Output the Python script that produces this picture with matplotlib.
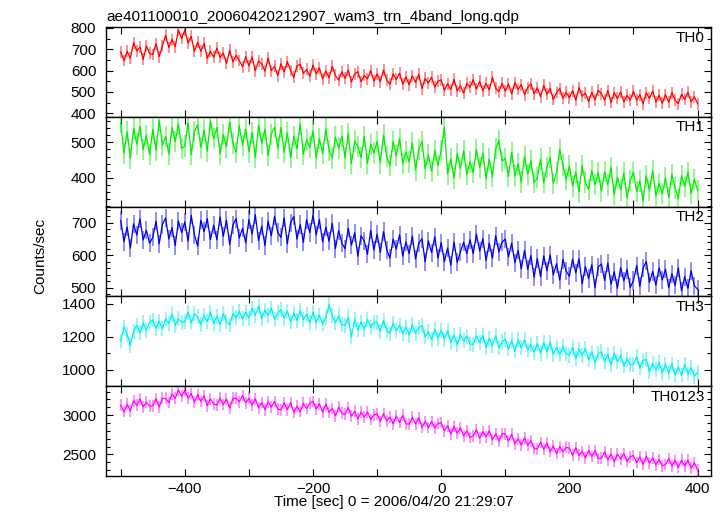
import numpy as np
import matplotlib
matplotlib.use("Agg")
import matplotlib.pyplot as plt
from matplotlib.ticker import MultipleLocator

plt.rcParams['font.family'] = ['Liberation Sans', 'DejaVu Sans']

# 5 s bins, time relative to 2006/04/20 21:29:07
time = np.arange(-500, 401, 5)

th0 = [
    686, 647, 690, 658, 730, 692, 710, 652, 715, 680,
    675, 725, 665, 715, 765, 708, 745, 712, 790, 750,
    790, 730, 760, 690, 732, 690, 727, 658, 690, 662,
    705, 661, 682, 633, 694, 640, 671, 647, 618, 665,
    622, 663, 599, 645, 631, 597, 658, 599, 620, 576,
    632, 594, 642, 600, 568, 621, 629, 587, 605, 573,
    626, 584, 612, 560, 598, 566, 619, 577, 555, 594,
    563, 602, 546, 585, 594, 548, 577, 561, 600, 550,
    584, 548, 602, 556, 535, 584, 558, 587, 536, 570,
    533, 576, 544, 582, 515, 563, 541, 569, 522, 550,
    556, 507, 538, 510, 559, 504, 529, 494, 540, 521,
    557, 513, 549, 505, 540, 509, 568, 517, 501, 540,
    504, 537, 490, 543, 511, 534, 487, 520, 538, 491,
    519, 477, 530, 488, 516, 464, 497, 515, 469, 498,
    472, 506, 461, 520, 480, 494, 454, 498, 463, 507,
    492, 461, 506, 450, 495, 469, 499, 453, 483, 462,
    502, 461, 486, 445, 495, 469, 504, 453, 483, 447,
    487, 451, 496, 460, 445, 489, 464, 498, 453, 477,
    445]

th1 = [
    555, 470, 530, 455, 540, 495, 545, 480, 520, 465,
    537, 477, 562, 492, 517, 467, 542, 502, 552, 482,
    490, 555, 465, 530, 550, 485, 535, 475, 560, 510,
    542, 467, 522, 487, 557, 497, 472, 547, 492, 537,
    473, 528, 458, 548, 498, 538, 463, 523, 543, 483,
    542, 472, 527, 457, 517, 482, 552, 467, 507, 487,
    532, 456, 510, 469, 538, 477, 456, 515, 484, 518,
    456, 525, 440, 504, 488, 457, 517, 441, 495, 470,
    503, 442, 521, 460, 434, 503, 462, 511, 440, 473,
    445, 499, 422, 480, 503, 426, 465, 418, 477, 435,
    478, 542, 411, 455, 399, 468, 427, 476, 410, 445,
    415, 480, 429, 469, 398, 453, 403, 482, 505, 447,
    455, 404, 472, 405, 439, 388, 461, 410, 448, 387,
    400, 453, 386, 429, 457, 385, 414, 480, 436, 395,
    433, 377, 416, 360, 434, 388, 367, 421, 381, 415,
    363, 417, 380, 429, 353, 402, 366, 414, 343, 392,
    416, 361, 391, 335, 405, 365, 420, 350, 385, 355,
    400, 345, 410, 371, 341, 406, 376, 416, 356, 396,
    365]

th2 = [
    707, 642, 687, 622, 697, 662, 712, 647, 677, 637,
    655, 705, 635, 695, 715, 650, 685, 630, 705, 670,
    703, 643, 723, 663, 628, 708, 673, 713, 648, 693,
    648, 718, 658, 708, 633, 693, 713, 653, 683, 638,
    710, 665, 725, 645, 690, 630, 705, 660, 720, 670,
    655, 715, 635, 700, 720, 650, 695, 640, 710, 670,
    724, 663, 710, 641, 687, 643, 699, 620, 676, 637,
    620, 683, 631, 669, 597, 660, 644, 603, 677, 616,
    665, 609, 673, 617, 591, 650, 619, 663, 597, 641,
    605, 659, 588, 637, 651, 580, 644, 608, 657, 591,
    639, 580, 622, 569, 641, 578, 610, 640, 605, 648,
    605, 665, 613, 651, 584, 637, 591, 660, 610, 640,
    650, 595, 638, 577, 615, 558, 615, 556, 599, 532,
    590, 534, 598, 552, 601, 540, 574, 523, 587, 551,
    535, 588, 546, 589, 512, 565, 528, 571, 500, 564,
    573, 522, 576, 510, 549, 498, 562, 521, 556, 501,
    522, 568, 504, 560, 581, 516, 550, 508, 561, 524,
    557, 500, 543, 507, 561, 490, 534, 498, 552, 506,
    495]

th3 = [
    1175, 1260, 1215, 1150, 1235, 1270, 1225, 1285, 1240, 1290,
    1302, 1251, 1295, 1250, 1308, 1282, 1336, 1270, 1309, 1288,
    1292, 1349, 1285, 1339, 1322, 1275, 1328, 1291, 1350, 1280,
    1325, 1275, 1341, 1293, 1272, 1341, 1315, 1355, 1310, 1349,
    1313, 1372, 1330, 1386, 1310, 1363, 1331, 1374, 1307, 1345,
    1364, 1313, 1357, 1290, 1343, 1301, 1358, 1305, 1338, 1286,
    1350, 1288, 1331, 1279, 1317, 1395, 1328, 1285, 1327, 1273,
    1270, 1317, 1200, 1306, 1243, 1290, 1247, 1305, 1258, 1286,
    1289, 1232, 1300, 1238, 1221, 1284, 1237, 1270, 1222, 1259,
    1211, 1273, 1220, 1257, 1268, 1200, 1232, 1184, 1246, 1193,
    1240, 1186, 1237, 1168, 1210, 1152, 1214, 1176, 1204, 1157,
    1155, 1208, 1166, 1209, 1137, 1190, 1148, 1206, 1134, 1172,
    1185, 1128, 1176, 1114, 1182, 1135, 1183, 1121, 1154, 1107,
    1160, 1102, 1164, 1111, 1168, 1095, 1137, 1094, 1141, 1098,
    1090, 1137, 1069, 1126, 1088, 1130, 1062, 1109, 1046, 1098,
    1110, 1052, 1094, 1031, 1103, 1050, 1087, 1024, 1066, 1033,
    1035, 1081, 1012, 1058, 1064, 990, 1041, 1002, 1043, 984,
    1035, 983, 1036, 969, 1017, 970, 1033, 976, 1014, 962,
    985]

th0123 = [
    3125, 3045, 3140, 3055, 3185, 3125, 3208, 3103, 3163, 3113,
    3120, 3210, 3105, 3215, 3215, 3160, 3270, 3215, 3320, 3240,
    3318, 3215, 3275, 3165, 3260, 3175, 3245, 3120, 3208, 3140,
    3130, 3215, 3135, 3205, 3090, 3215, 3215, 3170, 3250, 3155,
    3215, 3125, 3210, 3095, 3160, 3070, 3170, 3100, 3175, 3075,
    3070, 3155, 3070, 3160, 3035, 3113, 3045, 3150, 3085, 3150,
    3175, 3080, 3145, 3040, 3140, 3035, 3085, 2990, 3100, 3025,
    3010, 3095, 2985, 3050, 2950, 3040, 2975, 3040, 2945, 3005,
    3015, 2920, 3020, 2930, 2975, 2890, 2990, 2905, 2997, 2889,
    2885, 2972, 2889, 2966, 2843, 2920, 2842, 2919, 2836, 2893,
    2905, 2800, 2865, 2760, 2855, 2770, 2840, 2735, 2800, 2715,
    2735, 2815, 2705, 2790, 2725, 2800, 2690, 2760, 2670, 2765,
    2760, 2670, 2755, 2635, 2700, 2620, 2710, 2615, 2675, 2570,
    2570, 2652, 2565, 2643, 2535, 2607, 2510, 2598, 2532, 2591,
    2580, 2489, 2583, 2487, 2536, 2455, 2549, 2473, 2543, 2448,
    2449, 2530, 2431, 2502, 2408, 2504, 2440, 2510, 2410, 2470,
    2485, 2396, 2467, 2373, 2474, 2390, 2456, 2367, 2433, 2354,
    2370, 2446, 2352, 2423, 2334, 2425, 2351, 2427, 2323, 2394,
    2300]

# typical 1-sigma error bar of each band (counts/sec)
errors = [28, 30, 28, 45, 75]

bands = ["TH0", "TH1", "TH2", "TH3", "TH0123"]
series = [th0, th1, th2, th3, th0123]
colors = ["#ff0000", "#00ee00", "#0000ee", "#00eeee", "#ff00ff"]
ylims = [(383, 804), (319, 572), (473, 750), (902, 1445), (2224, 3369)]
majors = [100, 100, 100, 200, 500]
minors = [50, 20, 20, 100, 100]

fig, axes = plt.subplots(5, 1, sharex=True, figsize=(7.24, 5.16), dpi=100)
fig.subplots_adjust(left=106/724, right=711/724, top=1-27/516, bottom=1-476/516, hspace=0)

for ax, name, y, err, c, lim, mj, mn in zip(axes, bands, series, errors, colors, ylims, majors, minors):
    ax.errorbar(time, y, yerr=err, fmt='none', ecolor=c, elinewidth=1.1, alpha=0.55, capsize=0)
    ax.plot(time, y, color=c, lw=0.9)
    ax.set_ylim(*lim)
    ax.set_xlim(-523, 421)
    ax.yaxis.set_major_locator(MultipleLocator(mj))
    ax.yaxis.set_minor_locator(MultipleLocator(mn))
    ax.xaxis.set_major_locator(MultipleLocator(200))
    ax.xaxis.set_minor_locator(MultipleLocator(100))
    ax.tick_params(which='both', direction='in', top=True, right=True, labelsize=11, width=0.8)
    ax.tick_params(axis='y', which='major', length=5, pad=7)
    ax.tick_params(axis='y', which='minor', length=3)
    ax.tick_params(axis='x', which='both', length=5, pad=4)
    for s in ax.spines.values():
        s.set_linewidth(1.0)
    ax.text(0.99, 0.96, name, transform=ax.transAxes, ha='right', va='top', fontsize=11)

fig.text(106/724, 1-21/516, "ae401100010_20060420212907_wam3_trn_4band_long.qdp",
         ha='left', va='baseline', fontsize=11)
fig.text(40/724, 1-256/516, "Counts/sec", rotation=90, ha='center', va='center', fontsize=11)
fig.text(394/724, 1-506/516, "Time [sec] 0 = 2006/04/20 21:29:07",
         ha='center', va='baseline', fontsize=11)

fig.savefig("out.png", dpi=100)
